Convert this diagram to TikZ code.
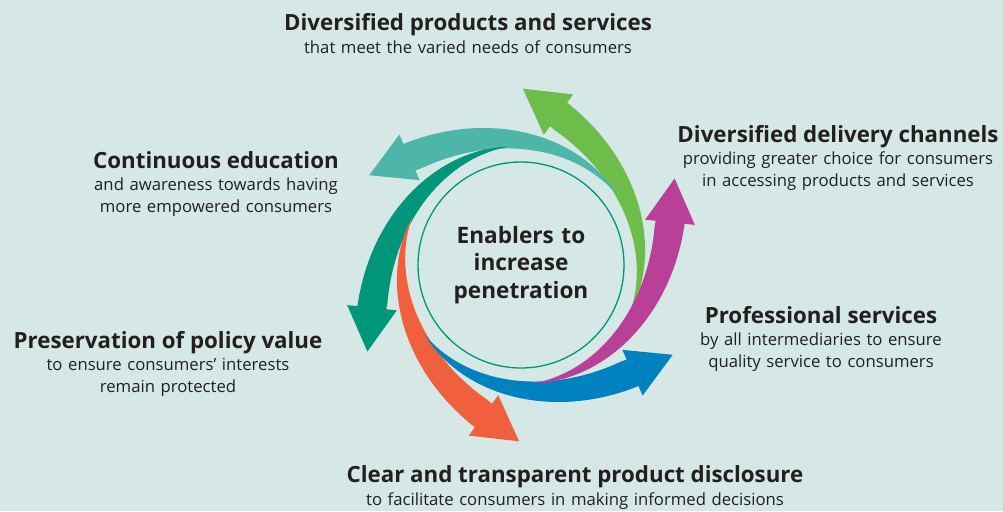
\documentclass[tikz,border=0pt]{standalone}
\usepackage{fontspec}
\setmainfont{Open Sans}
\usetikzlibrary{positioning}

\definecolor{bgmint}{RGB}{213,232,229}
\definecolor{txtdark}{RGB}{35,31,32}
\definecolor{argreen}{RGB}{109,189,74}
\definecolor{arteal}{RGB}{77,182,169}
\definecolor{ardteal}{RGB}{0,150,122}
\definecolor{arorange}{RGB}{240,95,62}
\definecolor{arblue}{RGB}{0,129,192}
\definecolor{armagenta}{RGB}{184,64,150}

\begin{document}
\begin{tikzpicture}
   [x=1pt,y=1pt,
    head/.style={anchor=base,text=txtdark,font=\bfseries\fontsize{22.3}{27}\selectfont},
    sub/.style={anchor=base,text=txtdark,text width=480pt,align=center,inner sep=0pt,
                font=\fontsize{16.7}{22}\selectfont},
    hub/.style={anchor=base,text=txtdark,text width=180pt,align=center,inner sep=0pt,
                font=\bfseries\fontsize{22.6}{27.5}\selectfont}]

\useasboundingbox (0,0) rectangle (1003,-511);
\fill[bgmint] (0,0) rectangle (1003,-511);

% one swirl arrow, turned by 60 degrees for each colour
\begin{scope}[shift={(521,-265)}]
\foreach \ang/\col in {0/argreen,60/arteal,120/ardteal,180/arorange,240/arblue,300/armagenta}{
  \begin{scope}[rotate=\ang]
    \fill[\col] plot[domain=0:1,samples=40,variable=\x] ({-24+100*\x}:{119+36*\x^3+16*\x})
       -- (26.0,141.4)
       -- plot[domain=1:0,samples=40,variable=\x] ({-24+100*\x}:{119+36*\x^3-16*\x}) -- cycle;
    \fill[\col] (52.2,170.6) -- (1.9,176.3) -- (22.8,130.2) -- cycle;
  \end{scope}
}
\draw[ardteal,line width=1.3pt] (0,0) circle (103pt);
\node[hub] (hub) at (0,22) {Enablers to\\increase\\penetration};
\end{scope}

% labels round the ring
\node[head] (prod) at (468,-31) {Diversified products and services};
\node[sub]  (prodsub) at (468,-53) {that meet the varied needs of consumers};
\node[head] (chan) at (838,-142) {Diversified delivery channels};
\node[sub]  (chansub) at (838,-164) {providing greater choice for consumers\\in accessing products and services};
\node[head] (prof) at (821,-323) {Professional services};
\node[sub]  (profsub) at (821,-345) {by all intermediaries to ensure\\quality service to consumers};
\node[head] (disc) at (575,-482) {Clear and transparent product disclosure};
\node[sub]  (discsub) at (575,-505) {to facilitate consumers in making informed decisions};
\node[head] (pres) at (168,-348) {Preservation of policy value};
\node[sub]  (pressub) at (168,-370) {to ensure consumers’ interests\\remain protected};
\node[head] (edu) at (216,-168) {Continuous education};
\node[sub]  (edusub) at (216,-190) {and awareness towards having\\more empowered consumers};
\end{tikzpicture}
\end{document}
